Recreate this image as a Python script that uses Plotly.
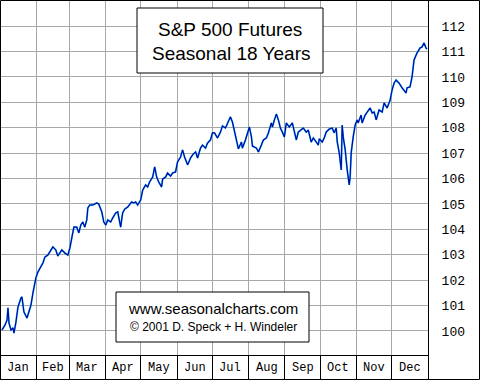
import plotly.graph_objects as go

# Day of year and seasonal index value
days = [1.7, 4.3, 6.0, 6.8, 7.7, 9.4, 11.1, 11.9, 13.6, 15.3, 17.9, 18.7, 20.4, 23.0, 23.8,
        26.4, 28.1, 30.6, 32.3, 34.9, 36.6, 38.3, 40.8, 45.1, 47.6, 49.3, 52.7, 55.3, 57.9,
        59.6, 61.3, 63.0, 65.5, 67.2, 68.9, 70.6, 72.3, 74.0, 74.9, 76.6, 79.1, 82.5, 84.2,
        86.8, 88.5, 90.2, 91.9, 94.4, 96.1, 98.7, 100.4, 102.9, 104.6, 106.4, 108.9, 112.3,
        114.0, 115.7, 117.4, 120.0, 121.7, 124.2, 125.9, 127.6, 130.2, 131.9, 133.6, 135.3,
        137.8, 138.7, 141.2, 142.9, 145.5, 147.2, 149.7, 151.4, 154.0, 155.7, 157.4, 159.1,
        160.0, 162.5, 164.2, 166.8, 168.5, 171.0, 172.7, 175.3, 177.0, 179.5, 181.2, 182.9,
        185.5, 188.0, 189.7, 192.3, 194.0, 196.5, 198.2, 199.9, 201.6, 203.3, 205.9, 206.7,
        209.3, 211.0, 212.7, 214.4, 215.3, 218.7, 220.4, 222.9, 224.6, 227.2, 228.9, 231.4,
        232.3, 234.0, 235.7, 237.4, 239.1, 240.8, 242.5, 244.2, 246.7, 249.3, 251.0, 252.7,
        254.4, 256.9, 258.6, 261.2, 262.9, 265.4, 267.2, 269.7, 271.4, 272.3, 274.8, 276.5,
        278.2, 280.8, 283.3, 285.0, 286.7, 287.6, 289.3, 291.0, 291.8, 292.7, 294.4, 296.1,
        297.8, 298.6, 299.5, 301.2, 302.9, 304.6, 305.4, 308.0, 308.8, 311.4, 313.1, 315.6,
        317.4, 319.1, 320.8, 323.3, 325.9, 327.6, 330.1, 332.7, 334.4, 336.1, 337.8, 340.3,
        342.9, 344.6, 346.3, 347.1, 349.7, 351.4, 353.1, 355.6, 358.2, 359.9, 361.6, 363.3,
        364.1]
values = [100.04, 100.24, 100.43, 100.91, 100.31, 100.04, 100.12, 99.92, 100.35, 100.94,
          101.30, 101.34, 100.75, 100.51, 100.63, 101.02, 101.50, 102.09, 102.32, 102.52,
          102.68, 102.91, 102.99, 103.31, 103.19, 102.95, 103.19, 103.07, 102.99, 103.27,
          103.70, 104.09, 104.09, 103.86, 104.17, 104.29, 104.09, 104.37, 104.84, 104.96,
          104.96, 105.04, 105.00, 104.69, 104.29, 104.17, 104.37, 104.29, 104.45, 104.65,
          104.69, 104.09, 104.65, 104.80, 104.88, 105.08, 105.04, 105.08, 104.96, 105.16,
          105.55, 105.75, 105.67, 105.87, 106.06, 106.46, 106.06, 105.87, 105.67, 105.98,
          106.06, 106.22, 106.10, 106.22, 106.26, 106.65, 106.85, 107.13, 106.85, 106.61,
          106.54, 106.81, 106.93, 107.05, 106.81, 107.20, 107.32, 107.20, 107.40, 107.52,
          107.80, 107.80, 107.60, 107.83, 108.07, 107.99, 108.19, 108.43, 108.23, 107.83,
          107.52, 107.17, 107.44, 107.20, 107.52, 107.80, 108.03, 107.64, 107.28, 107.20,
          107.05, 107.32, 107.52, 107.60, 107.80, 108.19, 108.03, 108.31, 108.54, 108.31,
          107.99, 107.83, 107.64, 108.19, 108.03, 108.19, 107.80, 107.52, 107.83, 107.91,
          107.99, 107.83, 107.91, 107.44, 107.60, 107.44, 107.32, 107.56, 107.44, 107.60,
          107.83, 107.95, 107.99, 107.80, 107.99, 107.44, 107.01, 106.34, 108.11, 107.64,
          107.13, 106.34, 105.75, 106.06, 107.01, 107.64, 108.11, 108.31, 108.19, 108.50,
          108.19, 108.50, 108.62, 108.78, 108.58, 108.62, 108.31, 108.70, 108.62, 108.98,
          108.78, 109.09, 109.49, 109.76, 109.88, 109.76, 109.57, 109.49, 109.37, 109.57,
          109.61, 110.00, 110.67, 110.94, 111.14, 111.18, 111.34, 111.14, 111.10]

month_names = ["Jan", "Feb", "Mar", "Apr", "May", "Jun", "Jul", "Aug", "Sep", "Oct", "Nov", "Dec"]
month_starts = [0, 31, 59, 90, 120, 151, 181, 212, 243, 273, 304, 334, 365]
y_ticks = list(range(100, 113))

title_lines = ["S&P 500 Futures", "Seasonal 18 Years"]
credit_lines = ["www.seasonalcharts.com", "© 2001 D. Speck + H. Windeler"]

W, H = 480, 380
ML, MR, MT, MB = 0, 52, 0, 25
PW, PH = W - ML - MR, H - MT - MB


def px(x):
    return (x - ML) / PW


def py(y):
    return 1 - (y - MT) / PH


fig = go.Figure()
fig.add_trace(go.Scatter(x=days, y=values, mode="lines",
                         line=dict(color="#18B4EC", width=1.8), hoverinfo="skip"))
fig.add_trace(go.Scatter(x=days, y=values, mode="lines",
                         line=dict(color="#0000A8", width=1.1)))

shapes = [
    dict(type="rect", xref="paper", yref="paper", x0=px(0.5), x1=px(479.5), y0=py(0.5), y1=py(379.5),
         line=dict(color="black", width=1), fillcolor="rgba(0,0,0,0)", layer="above"),
    dict(type="rect", xref="paper", yref="paper", x0=px(137), x1=px(323), y0=py(8), y1=py(73),
         line=dict(color="black", width=1), fillcolor="white", layer="above"),
    dict(type="rect", xref="paper", yref="paper", x0=px(116), x1=px(309), y0=py(292), y1=py(342),
         line=dict(color="black", width=1), fillcolor="white", layer="above"),
]

annotations = []
for i, name in enumerate(month_names):
    annotations.append(dict(x=(month_starts[i] + month_starts[i + 1]) / 2, xref="x",
                            y=py(367.5), yref="paper", text=name, showarrow=False,
                            xanchor="center", yanchor="middle",
                            font=dict(family="Liberation Mono", size=12, color="black")))
annotations.append(dict(x=px(230), y=py(29), xref="paper", yref="paper", text=title_lines[0],
                        showarrow=False, xanchor="center", yanchor="middle",
                        font=dict(family="Liberation Sans", size=19, color="black")))
annotations.append(dict(x=px(231), y=py(53), xref="paper", yref="paper", text=title_lines[1],
                        showarrow=False, xanchor="center", yanchor="middle",
                        font=dict(family="Liberation Sans", size=19, color="black")))
annotations.append(dict(x=px(212.5), y=py(308), xref="paper", yref="paper", text=credit_lines[0],
                        showarrow=False, xanchor="center", yanchor="middle",
                        font=dict(family="Liberation Sans", size=15, color="black")))
annotations.append(dict(x=px(213), y=py(327), xref="paper", yref="paper", text=credit_lines[1],
                        showarrow=False, xanchor="center", yanchor="middle",
                        font=dict(family="Liberation Sans", size=12, color="black")))

fig.update_layout(
    width=W, height=H,
    margin=dict(l=ML, r=MR, t=MT, b=MB, pad=0, autoexpand=False),
    paper_bgcolor="white", plot_bgcolor="white",
    showlegend=False,
    shapes=shapes, annotations=annotations,
    xaxis=dict(range=[0, 365], tickvals=month_starts, showticklabels=False,
               showgrid=True, gridcolor="#A8A8A8", gridwidth=1,
               ticks="outside", ticklen=24, tickcolor="black", tickwidth=1,
               showline=True, linecolor="black", linewidth=1, mirror=True,
               zeroline=False, fixedrange=True, automargin=False),
    yaxis=dict(range=[99.055, 113.03], side="right", tickvals=y_ticks,
               ticktext=[str(v) for v in y_ticks],
               showgrid=True, gridcolor="#A8A8A8", gridwidth=1,
               ticks="", ticklabelstandoff=10,
               tickfont=dict(family="Liberation Mono", size=13, color="black"),
               showline=True, linecolor="black", linewidth=1, mirror=True,
               zeroline=False, fixedrange=True, automargin=False),
)

fig.write_html("out.html", config={"displayModeBar": False},
               post_script="document.body.style.margin='0';document.body.style.overflow='hidden';")
